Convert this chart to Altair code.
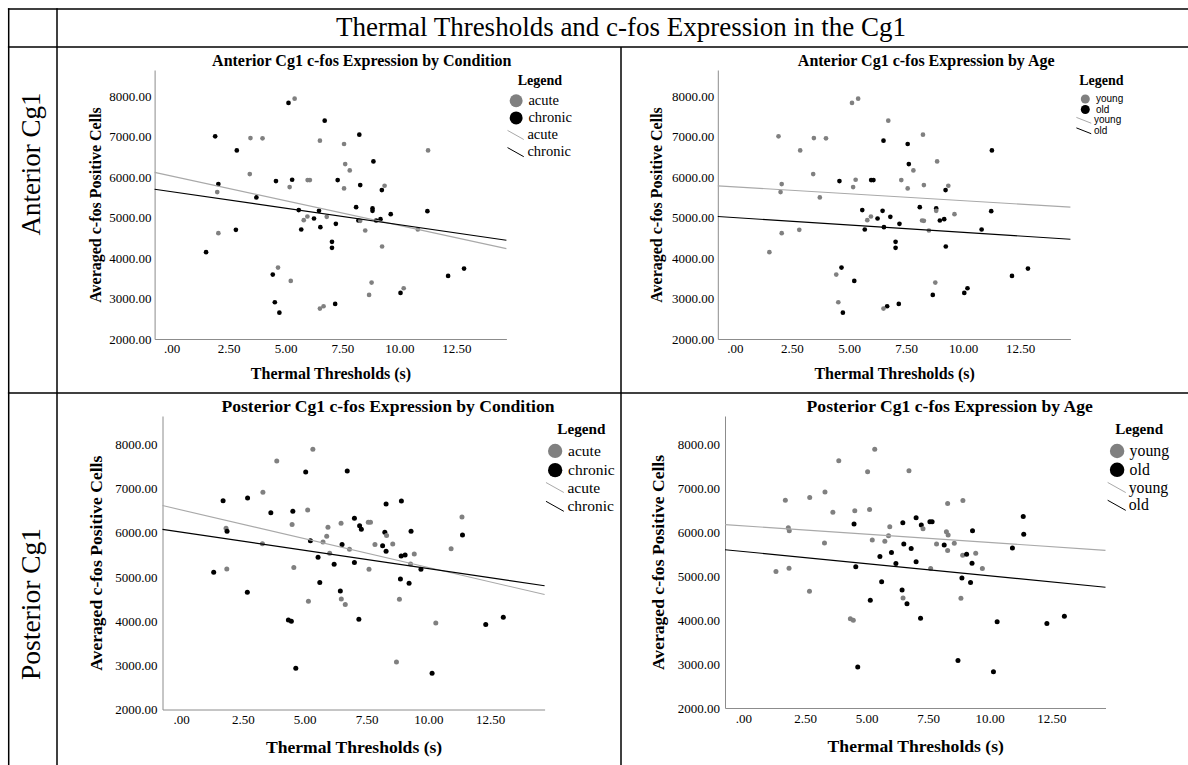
import altair as alt
import pandas as pd

W, H = 1188, 765
SERIF = "Liberation Serif"
SANS = "Liberation Sans"

# ---------------- data ----------------
XTICKS = [0, 2.5, 5, 7.5, 10, 12.5]
YTICKS = [2000, 3000, 4000, 5000, 6000, 7000, 8000]
XDOM = [-0.75, 14.7]
YDOM = [2000, 8650]

COND = ["acute", "chronic"]
AGE = ["young", "old"]

ANT_X = [5.40, 5.13, 6.72, 1.91, 3.46, 3.99, 8.24, 6.51, 7.57, 2.86,
         11.26, 8.86, 7.62, 7.82, 3.43, 4.58, 5.29, 5.97, 6.07, 7.29,
         2.05, 5.18, 8.28, 7.57, 9.35, 9.23, 2.00, 3.72, 8.10, 5.58,
         6.47, 8.82, 8.82, 11.23, 9.62, 5.96, 6.81, 6.25, 5.80, 8.20,
         8.28, 8.98, 9.17, 7.21, 6.53, 5.69, 2.82, 8.50, 10.81, 2.05,
         7.04, 7.04, 9.24, 1.51, 4.67, 4.44, 5.23, 8.78, 12.84, 12.14,
         10.19, 10.05, 8.67, 4.53, 7.18, 6.67, 6.51, 4.73]
ANT_Y = [7942, 7835, 7398, 7010, 6968, 6960, 7051, 6902, 6820, 6663,
         6663, 6391, 6325, 6168, 6077, 5904, 5937, 5929, 5929, 5929,
         5830, 5755, 5805, 5722, 5788, 5681, 5631, 5499, 5260, 5186,
         5169, 5227, 5169, 5161, 5087, 5029, 5021, 4979, 4938, 4930,
         4922, 4930, 4963, 4847, 4765, 4707, 4699, 4682, 4707, 4616,
         4402, 4253, 4286, 4146, 3766, 3593, 3436, 3395, 3741, 3560,
         3254, 3138, 3090, 2908, 2867, 2809, 2751, 2652]
ANT_COND_CODES = "ACCCAACAACACAAACCAACCACAACACCCCCCCCAACACACCCCCCAAACCACACAACCACACCAAC"
ANT_AGE_CODES = "YYYYYYYOOYOYOYYOYOOYYYYYYOYYOOOOYOYYOOYYYOOOOOYYOYOOOYOYOYOOOOOYOOYO"

POST_X = [5.33, 3.87, 5.04, 6.72, 3.31, 1.70, 2.69, 8.91, 8.29, 3.63,
          4.52, 5.12, 11.36, 7.01, 4.49, 6.47, 5.94, 7.22, 7.29, 7.57,
          7.66, 1.82, 1.86, 8.24, 8.31, 9.30, 11.38, 5.89, 3.29, 5.23,
          5.74, 6.51, 7.84, 8.15, 8.56, 6.81, 8.29, 6.01, 9.43, 10.92,
          8.90, 9.06, 5.54, 7.01, 6.19, 9.28, 9.70, 1.32, 1.85, 4.56,
          7.60, 8.87, 9.22, 5.61, 2.68, 6.44, 5.15, 6.48, 8.83, 6.64,
          4.34, 4.46, 7.19, 10.30, 12.32, 13.03, 8.71, 4.64, 10.15]
POST_Y = [7894, 7630, 7381, 7404, 6921, 6732, 6792, 6725, 6657, 6460,
          6491, 6521, 6362, 6332, 6189, 6219, 6128, 6166, 6083, 6242,
          6242, 6106, 6038, 6015, 5940, 6038, 5955, 5925, 5758, 5826,
          5796, 5736, 5736, 5713, 5751, 5630, 5585, 5540, 5525, 5645,
          5479, 5502, 5449, 5328, 5291, 5298, 5177, 5109, 5185, 5215,
          5177, 4958, 4860, 4875, 4657, 4687, 4453, 4506, 4498, 4377,
          4030, 4000, 4045, 3962, 3925, 4091, 3079, 2936, 2823]
POST_COND_CODES = "AACCACCCCCCAACAAACCAAACCACCAACACACAACAAACCCCCACCAAACCCCCAAAACCCACCACC"
POST_AGE_CODES = "YYYYYYYYYYYYOOOOYOYOOYYYYOOYYYYOYOYOYOYOYOOOOOYYYOYOOOYOOYYOYYOOOOOOO"

ANT_COND = ["acute" if c == "A" else "chronic" for c in ANT_COND_CODES]
ANT_AGE = ["young" if c == "Y" else "old" for c in ANT_AGE_CODES]
POST_COND = ["acute" if c == "A" else "chronic" for c in POST_COND_CODES]
POST_AGE = ["young" if c == "Y" else "old" for c in POST_AGE_CODES]

POINT_COLORS = ["#808080", "#000000"]
LINE_COLORS = ["#a9a9a9", "#000000"]
DIAG_BIG = "M-1.25,-0.7L1.25,0.7"
DIAG_SMALL = "M-1.65,-0.65L1.65,0.65"

HEADER = "Thermal Thresholds and c-fos Expression in the Cg1"
ROW_LABELS = ["Anterior Cg1", "Posterior Cg1"]
TITLES = ["Anterior Cg1 c-fos Expression by Condition",
          "Anterior Cg1 c-fos Expression by Age",
          "Posterior Cg1 c-fos Expression by Condition",
          "Posterior Cg1 c-fos Expression by Age"]
X_TITLE = "Thermal Thresholds (s)"
Y_TITLE = "Averaged c-fos Positive Cells"

one = alt.Data(values=[{}])


def hline(y, x1, x2):
    return alt.Chart(one).mark_rule(color="black", strokeWidth=1.5).encode(
        x=alt.value(x1), x2=alt.value(x2), y=alt.value(y))


def vline(x, y1, y2):
    return alt.Chart(one).mark_rule(color="black", strokeWidth=1.5).encode(
        x=alt.value(x), y=alt.value(y1), y2=alt.value(y2))


def label(text, x, y, size, weight="normal", angle=0, font=SERIF):
    return alt.Chart(one).mark_text(
        text=text, font=font, fontSize=size, fontWeight=weight, angle=angle,
        align="center", baseline="middle", color="black").encode(
        x=alt.value(x), y=alt.value(y))


def panel(xs_, ys_, gs_, cats, xr, yr, g):
    # "g" drives the point legend, "line" (same groups) drives the line legend
    df = pd.DataFrame({"x": xs_, "y": ys_, "g": gs_, "line": gs_})
    xscale = alt.Scale(domain=XDOM, range=xr, nice=False, zero=False)
    yscale = alt.Scale(domain=YDOM, range=yr, nice=False, zero=False)
    xaxis = alt.Axis(orient="bottom", offset=yr[0] - H, values=XTICKS,
                     labelExpr="datum.value == 0 ? '.00' : format(datum.value, '.2f')",
                     grid=False, ticks=False, domainColor="#8c8c8c", domainWidth=1,
                     labelFont=SERIF, labelFontSize=13, labelColor="black",
                     labelPadding=g["xlp"], labelFlush=False, labelOverlap=False,
                     title=X_TITLE, titleFont=SERIF, titleFontSize=g["ats"],
                     titleFontWeight="bold", titleColor="black", titlePadding=g["xtp"])
    yaxis = alt.Axis(orient="left", offset=-xr[0], values=YTICKS, format=".2f",
                     grid=False, ticks=False, domainColor="#8c8c8c", domainWidth=1,
                     labelFont=SERIF, labelFontSize=13, labelColor="black",
                     labelPadding=g["ylp"], labelFlush=False, labelOverlap=False,
                     title=Y_TITLE, titleFont=SERIF, titleFontSize=g["ats"],
                     titleFontWeight="bold", titleColor="black", titlePadding=g["ytp"])
    base = alt.Chart(df)
    pts = base.mark_circle(size=g["ps"], opacity=1).encode(
        x=alt.X("x:Q", scale=xscale, axis=xaxis),
        y=alt.Y("y:Q", scale=yscale, axis=yaxis),
        fill=alt.Fill("g:N", scale=alt.Scale(domain=cats, range=POINT_COLORS),
                      legend=alt.Legend(
                          orient="none", legendX=g["flx"], legendY=g["fly"],
                          direction="vertical", title="Legend", titleFont=SERIF,
                          titleFontSize=g["lts"], titleFontWeight="bold",
                          titleColor="black", titleAnchor="middle",
                          titlePadding=g["ltp"], labelFont=g["lf"],
                          labelFontSize=g["lls"], labelColor="black",
                          symbolType="circle", symbolSize=g["fss"],
                          symbolStrokeWidth=0, rowPadding=g["rp"],
                          labelOffset=g["flo"], padding=0)),
    )
    lines = base.transform_regression(
        "x", "y", groupby=["line"], extent=XDOM).mark_line(strokeWidth=1.1).encode(
        x=alt.X("x:Q", scale=xscale, axis=xaxis),
        y=alt.Y("y:Q", scale=yscale, axis=yaxis),
        stroke=alt.Stroke("line:N", sort=cats, scale=alt.Scale(range=LINE_COLORS),
                          legend=alt.Legend(
                              orient="none", legendX=g["slx"], legendY=g["sly"],
                              direction="vertical",
                              labelFont=g["lf"], labelFontSize=g["lls"],
                              labelColor="black", symbolType=g["path"],
                              symbolSize=g["sss"], symbolStrokeWidth=1,
                              rowPadding=g["srp"], labelOffset=g["slo"], padding=0,
                              title=None)),
    )
    return alt.layer(pts, lines)


G1 = dict(xlp=3, xtp=10, ylp=3.5, ytp=5, ats=16, ps=22,
          flx=508.9, fly=74, lts=14, ltp=5.5, lf=SERIF, lls=14.5, fss=169,
          rp=2.2, flo=5, slx=508.4, sly=127.7, sss=169, slo=4.5, srp=2.2,
          path=DIAG_BIG)
G2 = dict(xlp=3, xtp=10, ylp=4, ytp=7, ats=16, ps=22,
          flx=1079.3, fly=74, lts=14, ltp=6, lf=SANS, lls=10, fss=81,
          rp=0.5, flo=5.7, slx=1078.8, sly=115.3, sss=81, slo=5.2, srp=0.5,
          path=DIAG_SMALL)
G3 = dict(xlp=4, xtp=12, ylp=5.5, ytp=9, ats=17.6, ps=25,
          flx=547.4, fly=421.5, lts=15.2, ltp=6.5, lf=SERIF, lls=15.5, fss=204,
          rp=2.2, flo=5.2, slx=546.9, sly=479.5, sss=204, slo=4.5, srp=1.8,
          path=DIAG_BIG)
G4 = dict(xlp=4, xtp=12, ylp=5.4, ytp=9.5, ats=17.6, ps=25,
          flx=1109.2, fly=421.5, lts=15.1, ltp=6.5, lf=SERIF, lls=15.8, fss=210,
          rp=1.8, flo=4.6, slx=1108.7, sly=479.5, sss=210, slo=4, srp=1.8,
          path=DIAG_BIG)

p1 = panel(ANT_X, ANT_Y, ANT_COND, COND, [154.6, 506.4], [339, 70], G1)
p2 = panel(ANT_X, ANT_Y, ANT_AGE, AGE, [717.8, 1070.4], [339, 70], G2)
p3 = panel(POST_X, POST_Y, POST_COND, COND, [162.5, 544.6], [709.5, 416], G3)
p4 = panel(POST_X, POST_Y, POST_AGE, AGE, [725, 1105.5], [708, 416], G4)

frame = [
    hline(9, 7.9, W), hline(47, 7.9, W), hline(393, 7.9, W),
    vline(8.7, 8.3, H), vline(57, 8.3, H), vline(621, 47, H),
    label(HEADER, 621, 28, 27),
    label(ROW_LABELS[0], 32, 164, 27, angle=270),
    label(ROW_LABELS[1], 32, 604, 27.5, angle=270),
    label(TITLES[0], 361.8, 61, 16, "bold"),
    label(TITLES[1], 926.2, 61, 16, "bold"),
    label(TITLES[2], 388, 407.3, 17.6, "bold"),
    label(TITLES[3], 949.7, 407.3, 17.6, "bold"),
]

chart = alt.layer(*frame, p1, p2, p3, p4).resolve_scale(
    x="independent", y="independent", fill="independent", stroke="independent"
).properties(
    width=W, height=H, autosize=alt.AutoSizeParams(type="none"), padding=0,
    background="white"
).configure_view(stroke="transparent")

chart.save("out.html", embed_options={"renderer": "svg", "actions": False})
